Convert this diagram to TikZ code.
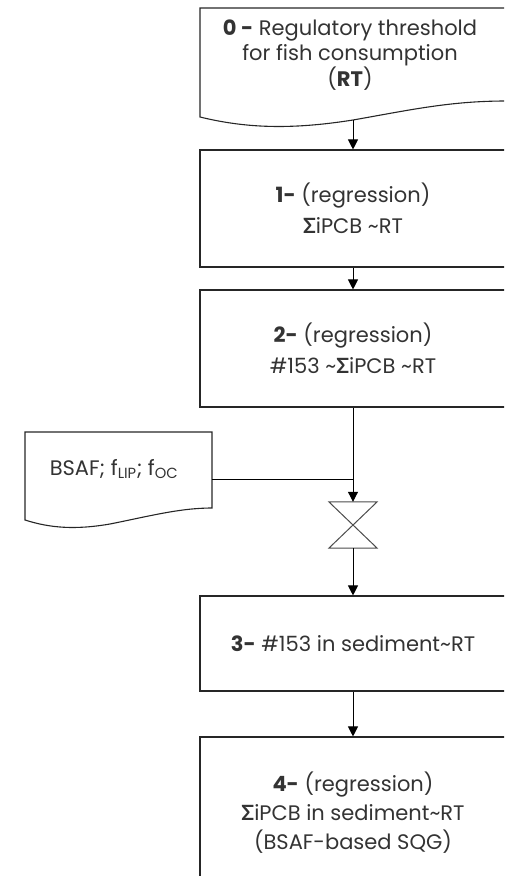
\documentclass[tikz,border=0pt]{standalone}
\usepackage{fontspec}
\setmainfont{Poppins}
\newfontfamily\sigfont{Lato}
\usetikzlibrary{arrows.meta}
\newcommand{\sig}{{\sigfont\bfseries Σ}}
\newcommand{\tl}{\textasciitilde}
\begin{document}
\begin{tikzpicture}[x=1pt, y=-1pt,
    box_style/.style={draw=black!85, line width=1.1pt, minimum width=306pt, inner sep=0pt, align=center, text=black!80},
    txt_style/.style={align=center, text=black!80, inner sep=0pt},
    flow/.style={line width=1pt, -{Triangle[width=10pt, length=10pt]}},
    plain_line/.style={line width=1pt},
    collate_style/.style={minimum width=48pt, minimum height=46pt, inner sep=0pt}
]
\useasboundingbox (0,0) rectangle (504,876);
\clip (0,0) rectangle (504,876);
% Document 0: regulatory threshold
\draw[draw=black!85, line width=1.1pt] (200,8) -- (506,8) -- (506,101)
    .. controls (450,101) and (410,110) .. (353,120)
    .. controls (290,130) and (245,128) .. (200,117) -- cycle;
\node[txt_style, font=\fontsize{21}{25}\selectfont] (rt) at (350,55)
    {\textbf{0 -} Regulatory threshold\\for fish consumption\\(\textbf{RT})};
\coordinate (rt-out) at (353,120);
% Boxes 1 to 4
\node[box_style, minimum height=117pt, font=\fontsize{21}{31}\selectfont] (reg1) at (353,208.5)
    {\textbf{1-} (regression)\\\sig iPCB \tl RT};
\node[box_style, minimum height=117pt, font=\fontsize{21}{31}\selectfont] (reg2) at (353,348.5)
    {\textbf{2-} (regression)\\\#153 \tl\sig iPCB \tl RT};
\node[box_style, minimum height=95pt, font=\fontsize{21}{29}\selectfont] (sed153) at (353,643.5)
    {\textbf{3-} \#153 in sediment\tl RT};
\node[box_style, minimum height=152pt, font=\fontsize{21}{29}\selectfont] (sqg) at (353,813)
    {\textbf{4-} (regression)\\\sig iPCB in sediment\tl RT\\(BSAF-based SQG)};
% Document: BSAF input
\draw[draw=black!85, line width=1.1pt] (25,432) -- (212,432) -- (212,508)
    .. controls (180,508) and (150,516) .. (110,524)
    .. controls (75,530) and (50,528) .. (25,520) -- cycle;
\node[txt_style, font=\fontsize{21}{25}\selectfont] (bsaf) at (114,469)
    {BSAF; f\textsubscript{LIP}; f\textsubscript{OC}};
\coordinate (bsaf-out) at (212,479);
\coordinate (join) at (353,479);
% Collate symbol
\node[collate_style] (merge) at (353,525) {};
\draw[draw=black!70, line width=1pt] (merge.north west) -- (merge.north east)
    -- (merge.south west) -- (merge.south east) -- cycle;
% Connectors
\draw[flow] (rt-out) -- (reg1);
\draw[flow] (reg1) -- (reg2);
\draw[flow] (reg2) -- (merge);
\draw[plain_line] (bsaf-out) -- (join);
\draw[flow] (merge) -- (sed153);
\draw[flow] (sed153) -- (sqg);
\end{tikzpicture}
\end{document}
